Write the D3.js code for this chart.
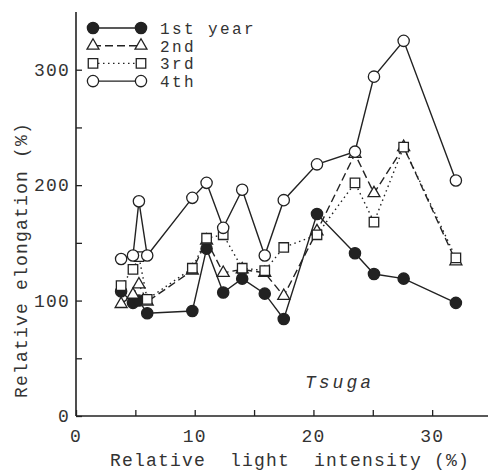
<!DOCTYPE html>
<html lang="en">
<head>
<meta charset="UTF-8">
<title>Tsuga - relative elongation</title>
<script src="https://d3js.org/d3.v7.min.js"></script>
<style>
  body { margin: 0; background: #fff; }
  svg text { font-family: "Liberation Mono", "DejaVu Sans Mono", monospace; fill: #333; }
</style>
</head>
<body>
<div id="chart"></div>
<script>
// light intensity (%) shared by all series
const lightIntensity = [3.8, 4.8, 5.3, 6.0, 9.8, 11.0, 12.4, 14.0, 15.9, 17.5, 20.3, 23.5, 25.1, 27.6, 32.0];
// relative elongation (%)
const year1 = [108, 98, 100, 89, 91, 145, 107, 119, 106, 84, 175, 141, 123, 119, 98];
const year2 = [97, 105, 114, 99, 126, 152, 124, 127, 124, 104, 160, 227, 193, 233, 134];
const year3 = [113, 127, 138, 101, 128, 154, 157, 128, 126, 146, 157, 202, 168, 233, 137];
const year4 = [136, 139, 186, 139, 189, 202, 163, 196, 139, 187, 218, 229, 294, 325, 204];

const seriesNames = ["1st year", "2nd", "3rd", "4th"];
const xTicks = [0, 10, 20, 30];
const yTicks = [0, 100, 200, 300];

const width = 488, height = 473;
const ink = "#222";

const svg = d3.select("#chart").append("svg")
    .attr("width", width)
    .attr("height", height);

const x = d3.scaleLinear().domain([0, 35]).range([76, 491.5]);
const y = d3.scaleLinear().domain([0, 350]).range([416, 12]);

// axes (ticks point inward, labels drawn separately)
const xAxis = d3.axisTop(x).tickValues([0, 5, 10, 15, 20, 25, 30]).tickSize(6).tickFormat("");
const yAxis = d3.axisRight(y).tickValues([0, 50, 100, 150, 200, 250, 300]).tickSize(6).tickFormat("");

const gx = svg.append("g").attr("transform", `translate(0,${y(0)})`).call(xAxis);
const gy = svg.append("g").attr("transform", `translate(${x(0)},0)`).call(yAxis);
[gx, gy].forEach(g => {
    g.select(".domain").attr("stroke", ink).attr("stroke-width", 1.6);
    g.selectAll(".tick line").attr("stroke", ink).attr("stroke-width", 1.3);
});
gx.select(".domain").attr("d", `M${x(0)},0H${width}`);
gy.select(".domain").attr("d", `M0,${y(0)}V12`);

svg.append("g").selectAll("text")
    .data(xTicks).enter().append("text")
    .attr("x", d => x(d))
    .attr("y", 442)
    .attr("text-anchor", "middle")
    .attr("font-size", 18)
    .attr("letter-spacing", 1.2)
    .text(d => d);

svg.append("g").selectAll("text")
    .data(yTicks).enter().append("text")
    .attr("x", 70)
    .attr("y", d => y(d) + 6)
    .attr("text-anchor", "end")
    .attr("font-size", 18)
    .attr("letter-spacing", 1.2)
    .text(d => d);

svg.append("text")
    .attr("x", 290)
    .attr("y", 466)
    .attr("text-anchor", "middle")
    .attr("font-size", 18)
    .attr("letter-spacing", 1.2)
    .style("white-space", "pre")
    .text("Relative  light  intensity (%)");

svg.append("text")
    .attr("transform", "translate(27,260) rotate(-90)")
    .attr("text-anchor", "middle")
    .attr("font-size", 18)
    .attr("letter-spacing", 1.2)
    .text("Relative elongation (%)");

svg.append("text")
    .attr("x", 305)
    .attr("y", 388)
    .attr("font-size", 18)
    .attr("font-style", "italic")
    .attr("letter-spacing", 3)
    .text("Tsuga");

// series styles
const styles = [
    { values: year1, symbol: d3.symbolCircle, size: 100, fill: ink, dash: null },
    { values: year2, symbol: d3.symbolTriangle, size: 62, fill: "#fff", dash: "8,4" },
    { values: year3, symbol: d3.symbolSquare, size: 90, fill: "#fff", dash: "1.5,3.5" },
    { values: year4, symbol: d3.symbolCircle, size: 100, fill: "#fff", dash: null }
];

const line = d3.line().x(d => x(d[0])).y(d => y(d[1]));

styles.forEach(s => {
    const pts = lightIntensity.map((v, i) => [v, s.values[i]]);
    svg.append("path")
        .datum(pts)
        .attr("d", line)
        .attr("fill", "none")
        .attr("stroke", ink)
        .attr("stroke-width", 1.4)
        .attr("stroke-dasharray", s.dash);
});

styles.forEach(s => {
    const pts = lightIntensity.map((v, i) => [v, s.values[i]]);
    svg.append("g").selectAll("path")
        .data(pts).enter().append("path")
        .attr("transform", d => `translate(${x(d[0])},${y(d[1])})`)
        .attr("d", d3.symbol().type(s.symbol).size(s.size))
        .attr("fill", s.fill)
        .attr("stroke", ink)
        .attr("stroke-width", 1.3);
});

// legend
const legend = svg.append("g");
styles.forEach((s, i) => {
    const base = 34 + i * 17.7;
    const cy = base - 6;
    legend.append("line")
        .attr("x1", 93).attr("x2", 141)
        .attr("y1", cy).attr("y2", cy)
        .attr("stroke", ink)
        .attr("stroke-width", 1.4)
        .attr("stroke-dasharray", s.dash);
    [93, 141].forEach(cx => {
        legend.append("path")
            .attr("transform", `translate(${cx},${cy})`)
            .attr("d", d3.symbol().type(s.symbol).size(s.size))
            .attr("fill", s.fill)
            .attr("stroke", ink)
            .attr("stroke-width", 1.3);
    });
    legend.append("text")
        .attr("x", 160)
        .attr("y", base)
        .attr("font-size", 16)
        .attr("letter-spacing", 2.4)
        .text(seriesNames[i]);
});
</script>
</body>
</html>
